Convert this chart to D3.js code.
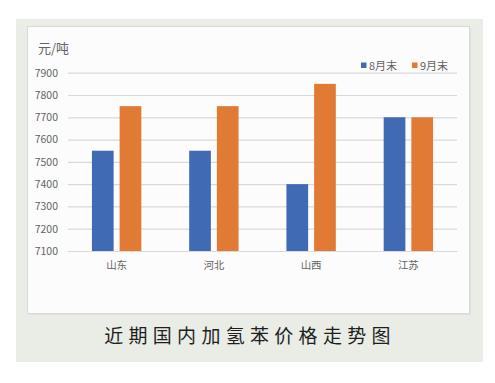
<!DOCTYPE html>
<html><head><meta charset="utf-8">
<script src="https://cdn.jsdelivr.net/npm/d3@7"></script>
<style>body{margin:0;background:#fff}svg{display:block}</style>
</head><body>
<svg id="c" width="495" height="383"></svg>
<script>
const categories = ["山东","河北","山西","江苏"];
const seriesNames = ["8月末","9月末"];
const aug = [7550,7550,7400,7700];
const sep = [7750,7750,7850,7700];
const yTicks = [7100,7200,7300,7400,7500,7600,7700,7800,7900];
const colors = ["#416ab4","#e07a34"];
const font = "'Noto Sans CJK SC','Noto Sans',sans-serif";

const svg = d3.select("#c");
svg.append("rect").attr("x",16).attr("y",19).attr("width",467).attr("height",343).attr("fill","#e9ede6");
svg.append("rect").attr("x",28.5).attr("y",27.5).attr("width",442).attr("height",287).attr("fill","#d6d6d3");
svg.append("rect").attr("x",27.5).attr("y",26.5).attr("width",442).attr("height",287).attr("fill","#fcfcfc").attr("stroke","#d9d9d6").attr("stroke-width",1);

const x = d3.scaleBand().domain(categories).range([68,457]);
const y = d3.scaleLinear().domain([7100,7900]).range([251,72.7]);

const gy = svg.append("g").attr("transform","translate(68,0)")
  .call(d3.axisLeft(y).tickValues(yTicks).tickSize(-389).tickFormat(d3.format("d")));
gy.select(".domain").remove();
gy.selectAll(".tick line").attr("stroke","#d9d9d9").attr("stroke-width",1.2);
gy.selectAll(".tick text").attr("x",-10).attr("fill","#636363").style("font-family",font).style("font-size","10.5px");

const gx = svg.append("g").attr("transform","translate(0,251)")
  .call(d3.axisBottom(x).tickSize(0).tickPadding(11));
gx.select(".domain").attr("stroke","#d9d9d9").attr("stroke-width",1.2);
gx.selectAll(".tick text").attr("fill","#636363").style("font-family",font).style("font-size","10.5px");

const data = [aug, sep];
const bw = 21.7, gap = 6;
data.forEach((vals,si)=>{
  svg.append("g").selectAll("rect").data(vals).join("rect")
    .attr("x",(d,i)=> x(categories[i]) + x.bandwidth()/2 + (si===0 ? -gap/2-bw : gap/2))
    .attr("y",d=>y(d)).attr("width",bw).attr("height",d=>y(7100)-y(d))
    .attr("fill",colors[si]);
});

svg.append("text").attr("x",38).attr("y",53).text("元/吨").attr("fill","#636363")
  .style("font-family",font).style("font-size","13px");

const legX = [361,412];
seriesNames.forEach((n,i)=>{
  svg.append("rect").attr("x",legX[i]).attr("y",62.5).attr("width",5.5).attr("height",5.5).attr("fill",colors[i]);
  svg.append("text").attr("x",legX[i]+8).attr("y",69.5).text(n).attr("fill","#636363")
    .style("font-family",font).style("font-size","11px");
});

svg.append("text").attr("x",250).attr("y",343).attr("text-anchor","middle")
  .text("近期国内加氢苯价格走势图").attr("fill","#1e1e1e")
  .style("font-family",font).style("font-size","19px").style("letter-spacing","5.3px").style("font-weight","400");
</script>
</body></html>
